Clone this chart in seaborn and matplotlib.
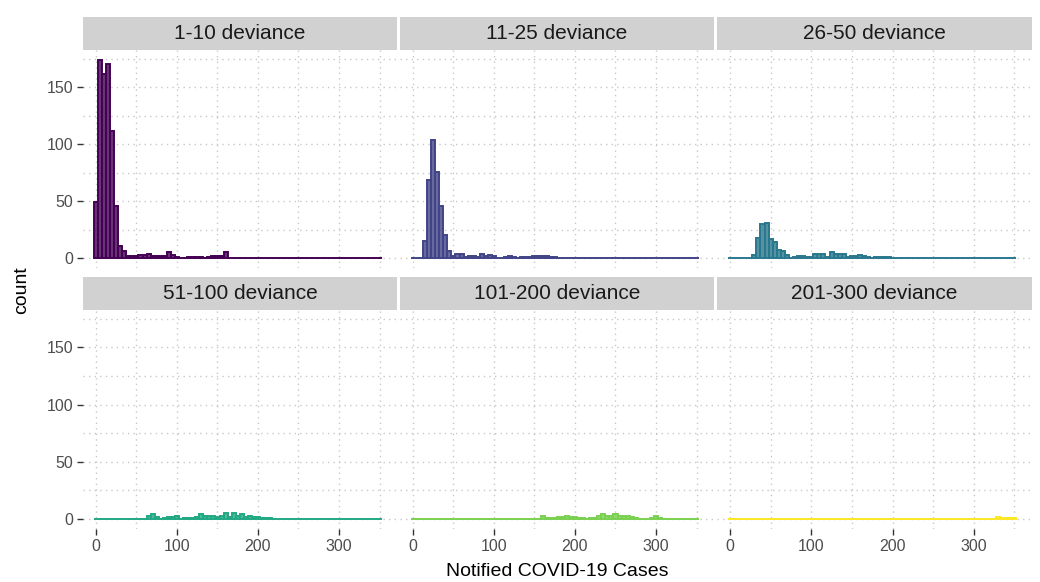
import numpy as np
import pandas as pd
import seaborn as sns
import matplotlib.pyplot as plt
from matplotlib.patches import Rectangle

sns.set_theme(style="white")
plt.rcParams['font.family'] = ['Liberation Sans', 'DejaVu Sans']

# facet labels + viridis colours (one per facet)
panel_labels = ['1-10 deviance', '11-25 deviance', '26-50 deviance',
                '51-100 deviance', '101-200 deviance', '201-300 deviance']
panel_colors = ['#440154', '#414487', '#2A788E', '#22A884', '#7AD151', '#FDE725']

# histogram bins, width 5, centred on 0, 5, ..., 350
bin_centers = np.arange(0, 355, 5)

# counts, one list per facet (71 bins each)
counts_1_10 = [49, 174, 162, 170, 112, 46, 11, 6, 2, 2, 2, 3, 3, 4, 2, 2, 2, 2, 5, 3,
               1, 0, 0, 1, 1, 1, 1, 0, 1, 2, 2, 2, 5] + [0] * 38
counts_11_25 = [0, 0, 0, 15, 69, 104, 76, 46, 20, 6, 2, 4, 4, 1, 2, 2, 1, 4, 2, 3,
                2, 0, 0, 1, 2, 1, 0, 1, 1, 1, 2, 2, 2, 2, 1, 1] + [0] * 35
counts_26_50 = [0, 0, 0, 0, 0, 0, 3, 18, 30, 31, 17, 14, 7, 6, 3, 0, 1, 2, 2, 1,
                1, 4, 4, 4, 1, 5, 4, 4, 4, 1, 2, 2, 3, 2, 1, 0, 1, 1, 1, 1] + [0] * 31
counts_51_100 = [0] * 13 + [3, 4, 2, 0, 1, 2, 2, 3, 0, 1, 1, 1, 2, 4, 3, 3, 3, 2, 3,
                            5, 2, 5, 3, 4, 2, 3, 2, 2, 1, 1, 1] + [0] * 27
counts_101_200 = [0] * 32 + [3, 1, 1, 1, 2, 2, 3, 2, 2, 1, 1, 0, 1, 1, 3, 4, 3, 3,
                             4, 3, 3, 3, 2, 1, 0, 0, 0, 1, 3, 1] + [0] * 9
counts_201_300 = [0] * 66 + [2, 1, 1, 1, 1]

panel_counts = [counts_1_10, counts_11_25, counts_26_50,
                counts_51_100, counts_101_200, counts_201_300]

W, H = 1040, 582
fig = plt.figure(figsize=(W / 100, H / 100), dpi=100)

col_x = [(83, 397), (400, 714), (717, 1032)]
row_y = [(50, 268), (310, 529)]
strip_h = 33

for i, (label, counts, color) in enumerate(zip(panel_labels, panel_counts, panel_colors)):
    r, c = divmod(i, 3)
    x0, x1 = col_x[c]
    y0, y1 = row_y[r]
    ax = fig.add_axes([x0 / W, 1 - y1 / H, (x1 - x0) / W, (y1 - y0) / H])

    ax.set_xticks([0, 100, 200, 300])
    ax.set_xticks([50, 150, 250, 350], minor=True)
    ax.set_yticks([0, 50, 100, 150])
    ax.set_yticks([25, 75, 125, 175], minor=True)
    ax.grid(True, which='both', linestyle=(0, (1, 3)), color='#c8c8c8', linewidth=1.0)
    ax.set_axisbelow(True)

    df = pd.DataFrame({'cases': bin_centers, 'n': np.asarray(counts, dtype=float)})
    sns.histplot(data=df, x='cases', weights='n', binwidth=5, binrange=(-2.5, 352.5),
                 ax=ax, color=color, alpha=0.8, edgecolor=color, linewidth=1.4)

    ax.set_xlim(-16, 371.6)
    ax.set_ylim(-8.7, 182.7)
    ax.set_xlabel('')
    ax.set_ylabel('')
    for s in ax.spines.values():
        s.set_visible(False)

    # grey strip on top of the panel
    hfrac = strip_h / (y1 - y0)
    ax.add_patch(Rectangle((0, 1), 1, hfrac, transform=ax.transAxes,
                           clip_on=False, facecolor='#d1d1d1', edgecolor='none'))
    ax.text(0.5, 1 + hfrac / 2, label, transform=ax.transAxes, ha='center', va='center',
            fontsize=15, color='#1a1a1a')

    ax.tick_params(which='major', direction='out', length=4, width=1, color='#333333',
                   labelsize=11.5, labelcolor='#4d4d4d', pad=3)
    ax.tick_params(which='minor', length=0)
    ax.tick_params(axis='x', bottom=(r == 1), labelbottom=(r == 1))
    ax.tick_params(axis='y', left=(c == 0), labelleft=(c == 0))

fig.text(557.5 / W, 1 - 572 / H, 'Notified COVID-19 Cases', ha='center', va='center',
         fontsize=14, color='black')
fig.text(22 / W, 1 - 290 / H, 'count', ha='center', va='center', rotation=90,
         fontsize=14, color='black')

fig.savefig('out.png', dpi=100)
